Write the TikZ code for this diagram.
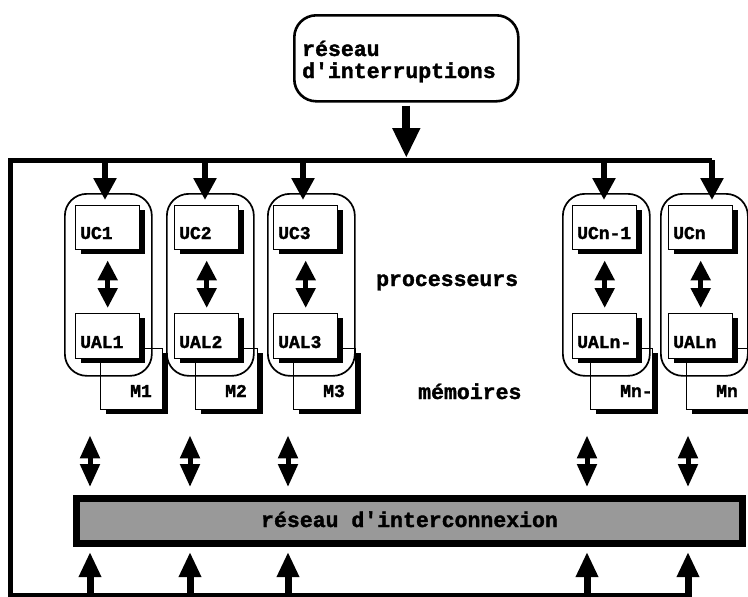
\documentclass[tikz,border=0pt]{standalone}
\usepackage{fontspec}
\setmonofont{Liberation Mono}[BoldFeatures={FakeBold=1.6}]
\usetikzlibrary{arrows.meta}
\begin{document}
\begin{tikzpicture}[x=1pt,y=1pt,
  bigtext/.style={font=\ttfamily\bfseries\fontsize{21.5}{22}\selectfont, inner sep=0pt},
  boxtext/.style={font=\ttfamily\bfseries\fontsize{18}{18}\selectfont, inner sep=0pt},
  unitbox/.style={draw, line width=1.4pt, fill=white, anchor=north west, inner sep=0pt,
     minimum width=64pt, minimum height=44pt},
  membox/.style={unitbox, minimum width=62pt, minimum height=61pt},
  modframe/.style={draw, line width=1.7pt, rounded corners=22pt, anchor=north west,
     inner sep=0pt, minimum width=87pt, minimum height=182pt},
  boxshadow/.style={fill=black},
  wire/.style={line width=5pt, line join=miter},
  irqarrow/.style={line width=8pt, -{Triangle[length=30pt,width=26pt]}},
  busarrow/.style={line width=6pt, -{Triangle[length=22pt,width=22pt]}},
  pairarrow/.style={line width=5pt, {Triangle[length=20pt,width=19pt]}-{Triangle[length=20pt,width=19pt]}},
  linkarrow/.style={line width=5pt, {Triangle[length=23pt,width=19pt]}-{Triangle[length=23pt,width=19pt]}},
  feedarrow/.style={line width=7pt, -{Triangle[length=25pt,width=21pt]}},
]
\useasboundingbox (0,0) rectangle (748,-597);

% interrupt network
\node[draw, line width=2.6pt, rounded corners=22pt, anchor=north west,
      minimum width=224pt, minimum height=86pt, inner sep=0pt] (irq) at (293,-14) {};
\node[bigtext, anchor=base west] (irqa) at (302,-56) {réseau};
\node[bigtext, anchor=base west] (irqb) at (302,-78) {d'interruptions};

\coordinate (busL) at (10,-160);
\coordinate (botL) at (10,-595);

% processors: memory, frame, control unit, ALU (boxes cast a hard shadow)
\foreach \i/\L/\ax/\ta/\ba/\mx/\uc/\ual/\mm in {
  1/64/107/105/90/100/UC1/UAL1/M1,
  2/166/206/205/190/195/UC2/UAL2/M2,
  3/267/305/303/288/293/UC3/UAL3/M3,
  4/562/604/604/587/590/UCn-1/UALn-/Mn-,
  5/660/700/712/688/686/UCn/UALn/Mn}
{
  \path[boxshadow] ({\mx+6},-353) rectangle ++(62,-61);
  \node[membox] (m\i) at (\mx,-348) {};
  \node[boxtext, anchor=base west] (mt\i) at ({\mx+30},-397) {\mm};
  \node[modframe] (mod\i) at (\L,-193) {};
  \path[boxshadow] ({\ax-26},-210) rectangle ++(64,-44);
  \node[unitbox] (uc\i) at ({\ax-32},-205) {};
  \node[boxtext, anchor=base west] (uct\i) at ({\ax-27},-239) {\uc};
  \path[boxshadow] ({\ax-26},-318) rectangle ++(64,-45);
  \node[unitbox, minimum height=45pt] (ual\i) at ({\ax-32},-313) {};
  \node[boxtext, anchor=base west] (ualt\i) at ({\ax-27},-348) {\ual};
  \draw[pairarrow, shorten <=10pt, shorten >=5pt] (uc\i.south) -- (ual\i.north);
  \coordinate (t\i) at (\ta,-160);
  \coordinate (lo\i) at (\ba,-597);
}

% interrupt bus and return line
\draw[wire] (lo5 |- botL) -- (botL) -- (busL) -- (t5);
\draw[irqarrow, shorten <=3pt, shorten >=2pt] (irq.south) -- (irq.south |- busL);
\foreach \i in {1,...,5}
  \draw[busarrow, shorten >=-7pt] (t\i) -- (t\i |- mod\i.north);

\node[bigtext, anchor=base west] (proc) at (376,-286) {processeurs};
\node[bigtext, anchor=base west] (mem) at (418,-399) {mémoires};

% interconnection network
\node[draw, line width=7pt, fill=black!40, minimum width=666pt, minimum height=45pt,
      inner sep=0pt] (bar) at (409.5,-521) {};
\node[bigtext, anchor=base] (bart) at (409.5,-527) {réseau d'interconnexion};

\foreach \i in {1,...,5} {
  \draw[linkarrow, shorten <=25pt, shorten >=8pt] (lo\i |- m\i.south) -- (lo\i |- bar.north);
  \draw[feedarrow, shorten >=5pt] (lo\i) -- (lo\i |- bar.south);
}
\end{tikzpicture}
\end{document}
